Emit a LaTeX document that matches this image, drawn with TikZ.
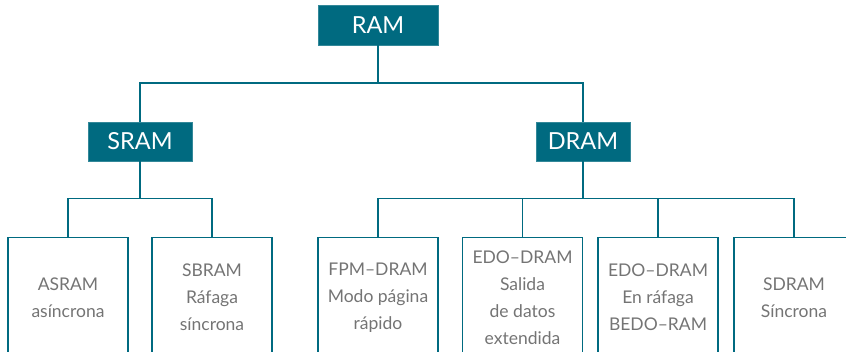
\documentclass[tikz,border=0pt]{standalone}
\usepackage{fontspec}
\setmainfont{Lato}
\definecolor{teal1}{HTML}{006A80}
\definecolor{txtgray}{HTML}{747474}
\tikzset{
  head/.style={draw=teal1!80!white, line width=0.8pt, fill=teal1, text=white, font=\fontsize{23.5}{26}\selectfont, inner sep=0pt, minimum height=39pt},
  leaf/.style={draw=teal1, line width=1.2pt, text=txtgray, font=\fontsize{17.5}{27}\selectfont, align=center, inner sep=0pt, minimum width=120pt, minimum height=120pt, anchor=north},
  conn/.style={draw=teal1, line width=1.2pt}
}
\begin{document}
\begin{tikzpicture}[x=1pt,y=-1pt]
\useasboundingbox (0,0) rectangle (846,351);
\clip (0,0) rectangle (846,351);
\node[head, minimum width=120pt, minimum height=40pt] (ram) at (378,25) {RAM};
\node[head, minimum width=104pt] (sram) at (140,141.5) {SRAM};
\node[head, minimum width=94pt] (dram) at (583,141.5) {DRAM};
\node[leaf] (asram) at (68,237) {ASRAM\\asíncrona};
\node[leaf] (sbram) at (212,237) {SBRAM\\Ráfaga\\síncrona};
\node[leaf] (fpm) at (378,237) {FPM–DRAM\\Modo página\\rápido};
\node[leaf] (edo) at (522.5,237) {EDO–DRAM\\Salida\\de datos\\extendida};
\node[leaf] (bedo) at (658,237) {EDO–DRAM\\En ráfaga\\BEDO–RAM};
\node[leaf] (sdram) at (794,237) {SDRAM\\Síncrona};
\coordinate (l1) at (378,83);
\coordinate (l2s) at (140,198.5);
\coordinate (l2d) at (583,198.5);
\draw[conn] (ram.south) -- (l1);
\draw[conn] (sram.north) |- (l1) -| (dram.north);
\draw[conn] (sram.south) -- (l2s);
\draw[conn] (asram.north) |- (l2s) -| (sbram.north);
\draw[conn] (dram.south) -- (l2d);
\draw[conn] (fpm.north) |- (l2d) -| (sdram.north);
\draw[conn] (edo.north) -- (edo.north |- l2d);
\draw[conn] (bedo.north) -- (bedo.north |- l2d);
\end{tikzpicture}
\end{document}
